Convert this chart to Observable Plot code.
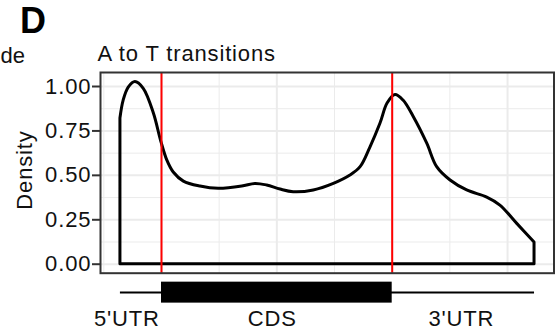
<!DOCTYPE html>
<html>
<head>
<meta charset="utf-8">
<script src="https://cdn.jsdelivr.net/npm/d3@7"></script>
<script src="https://cdn.jsdelivr.net/npm/@observablehq/plot@0.6"></script>
<style>
  html, body { margin: 0; padding: 0; background: #fff; }
  #chart svg { display: block; }
</style>
</head>
<body>
<div id="chart"></div>
<script>
// ---- data ----
const panelLetter = "D";
const cutLabel = "de";
const title = "A to T transitions";
const yLabel = "Density";

// metagene position (CDS spans 1..2) and density
const posX = [0.822, 0.836, 0.858, 0.887, 0.923, 0.967, 0.999, 1.025, 1.053, 1.097,
  1.169, 1.248, 1.350, 1.407, 1.458, 1.516, 1.573, 1.660, 1.747, 1.819,
  1.863, 1.906, 1.949, 1.980, 2.014, 2.049, 2.094, 2.152, 2.195, 2.253,
  2.325, 2.412, 2.469, 2.542, 2.617];
const density = [0.820, 0.921, 0.994, 1.025, 0.987, 0.848, 0.690, 0.584, 0.516, 0.465,
  0.437, 0.424, 0.437, 0.452, 0.443, 0.420, 0.405, 0.415, 0.452, 0.499,
  0.546, 0.658, 0.790, 0.904, 0.952, 0.921, 0.827, 0.678, 0.546, 0.471,
  0.415, 0.375, 0.330, 0.227, 0.122];

const boundaries = [1, 2];             // CDS start / end (red lines)
const geneStart = 0.822, geneEnd = 2.617;
const regionLabels = ["5'UTR", "CDS", "3'UTR"];
const regionLabelX = [0.85, 1.48, 2.30];

const yTicks = [0, 0.25, 0.5, 0.75, 1];
const yMinor = [0.125, 0.375, 0.625, 0.875];
const xMajor = [1, 1.5, 2, 2.5];
const xMinor = [0.75, 1.25, 1.75, 2.25];

// ---- build ----
const curve = posX.map((x, i) => ({x, y: density[i]}));
const regions = regionLabels.map((t, i) => ({t, x: regionLabelX[i]}));

const FONT = "'Liberation Sans', Arial, Helvetica, sans-serif";
const grid = "#ebebeb";

const plot = Plot.plot({
  width: 560,
  height: 331,
  marginLeft: 100,
  marginRight: 6.5,
  marginTop: 72,
  marginBottom: 58.3,
  style: {fontFamily: FONT, fontSize: "22px", letterSpacing: "0.85px", color: "#111", background: "#fff", overflow: "visible"},
  x: {domain: [0.7356, 2.7014], axis: null},
  y: {domain: [-0.0506, 1.0788]},
  marks: [
    Plot.ruleY(yMinor, {stroke: grid, strokeWidth: 1}),
    Plot.ruleY(yTicks, {stroke: grid, strokeWidth: 2}),
    Plot.ruleX(xMinor, {stroke: grid, strokeWidth: 1}),
    Plot.ruleX(xMajor, {stroke: grid, strokeWidth: 2}),
    Plot.areaY(curve, {x: "x", y: "y", fill: "none", stroke: "black", strokeWidth: 3, curve: "catmull-rom"}),
    Plot.ruleX(boundaries, {stroke: "red", strokeWidth: 2}),
    Plot.frame({stroke: "#333", strokeWidth: 2}),
    Plot.axisY(yTicks, {tickFormat: d3.format(".2f"), tickSize: 8, tickPadding: 1.2, stroke: "#333", strokeWidth: 2, label: null, fill: "#111"}),
    // gene model below the panel
    Plot.ruleY([-0.159], {x1: geneStart, x2: geneEnd, stroke: "black", strokeWidth: 2}),
    Plot.rect([boundaries], {x1: d => d[0], x2: d => d[1], y1: -0.101, y2: -0.219, fill: "black"}),
    Plot.text(regions, {x: "x", text: "t", frameAnchor: "bottom", lineAnchor: "bottom", dy: 52.3, fill: "#111"})
  ]
});

document.getElementById("chart").appendChild(plot);

// annotation texts
const svg = d3.select(plot);
svg.append("text").attr("x", 20).attr("y", 33.3).attr("text-anchor", "start")
  .attr("font-size", 36).attr("font-weight", "bold").attr("letter-spacing", 0)
  .attr("fill", "black").text(panelLetter);
svg.append("text").attr("x", 25).attr("y", 63).attr("text-anchor", "end")
  .attr("font-size", 22).attr("letter-spacing", 0).attr("fill", "#111").text(cutLabel);
svg.append("text").attr("x", 97.5).attr("y", 61).attr("text-anchor", "start")
  .attr("font-size", 22).attr("fill", "#111").text(title);
svg.append("text").attr("transform", "translate(32,170) rotate(-90)")
  .attr("text-anchor", "middle").attr("font-size", 22).attr("fill", "#111").text(yLabel);
</script>
</body>
</html>
